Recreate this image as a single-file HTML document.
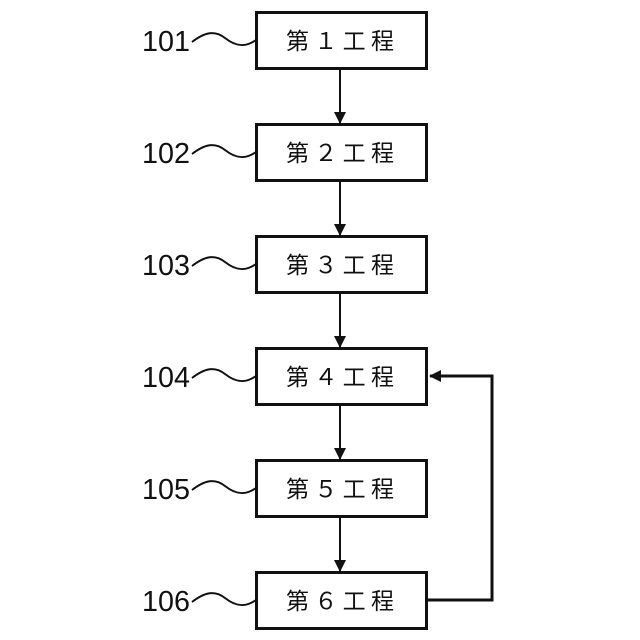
<!DOCTYPE html>
<html><head><meta charset="utf-8"><style>
html,body{margin:0;padding:0;background:#fff;}
svg{display:block}
.t{font-family:"Liberation Sans","Noto Sans CJK JP",sans-serif;font-size:23px;fill:#111}
.n{font-family:"Liberation Sans Narrow","Liberation Sans",sans-serif;font-size:29px;fill:#111}
</style></head><body>
<svg width="640" height="640" viewBox="0 0 640 640" xmlns="http://www.w3.org/2000/svg">
<defs><marker id="a" markerWidth="12" markerHeight="12" refX="11" refY="6" orient="auto" markerUnits="userSpaceOnUse"><path d="M0,0 L12,6 L0,12 z" fill="#111"/></marker></defs>
<g stroke="#111" stroke-width="3" fill="none">
<rect x="256.5" y="12.5" width="170" height="56"/>
<rect x="256.5" y="124.5" width="170" height="56"/>
<rect x="256.5" y="236.5" width="170" height="56"/>
<rect x="256.5" y="348.5" width="170" height="56"/>
<rect x="256.5" y="460.5" width="170" height="56"/>
<rect x="256.5" y="572.5" width="170" height="56"/>
</g>
<g stroke="#111" stroke-width="2" fill="none">
<line x1="340" y1="69" x2="340" y2="123" marker-end="url(#a)"/>
<line x1="340" y1="181" x2="340" y2="235" marker-end="url(#a)"/>
<line x1="340" y1="293" x2="340" y2="347" marker-end="url(#a)"/>
<line x1="340" y1="405" x2="340" y2="459" marker-end="url(#a)"/>
<line x1="340" y1="517" x2="340" y2="571" marker-end="url(#a)"/>
<polyline points="428,600 492,600 492,376 430,376" stroke-width="3" marker-end="url(#a)"/>
<path d="M192,42 C205,32 215,30 225,38 C235,46 245,48 256,40"/>
<path d="M192,154 C205,144 215,142 225,150 C235,158 245,160 256,152"/>
<path d="M192,266 C205,256 215,254 225,262 C235,270 245,272 256,264"/>
<path d="M192,378 C205,368 215,366 225,374 C235,382 245,384 256,376"/>
<path d="M192,490 C205,480 215,478 225,486 C235,494 245,496 256,488"/>
<path d="M192,602 C205,592 215,590 225,598 C235,606 245,608 256,600"/>
</g>
<g class="n">
<text x="142" y="51" textLength="48" lengthAdjust="spacingAndGlyphs">101</text>
<text x="142" y="163" textLength="48" lengthAdjust="spacingAndGlyphs">102</text>
<text x="142" y="275" textLength="48" lengthAdjust="spacingAndGlyphs">103</text>
<text x="142" y="387" textLength="48" lengthAdjust="spacingAndGlyphs">104</text>
<text x="142" y="499" textLength="48" lengthAdjust="spacingAndGlyphs">105</text>
<text x="142" y="611" textLength="48" lengthAdjust="spacingAndGlyphs">106</text>
</g>
<g class="t">
<text x="286" y="49" textLength="108" lengthAdjust="spacing">第１工程</text>
<text x="286" y="161" textLength="108" lengthAdjust="spacing">第２工程</text>
<text x="286" y="273" textLength="108" lengthAdjust="spacing">第３工程</text>
<text x="286" y="385" textLength="108" lengthAdjust="spacing">第４工程</text>
<text x="286" y="497" textLength="108" lengthAdjust="spacing">第５工程</text>
<text x="286" y="609" textLength="108" lengthAdjust="spacing">第６工程</text>
</g>
</svg>
</body></html>
